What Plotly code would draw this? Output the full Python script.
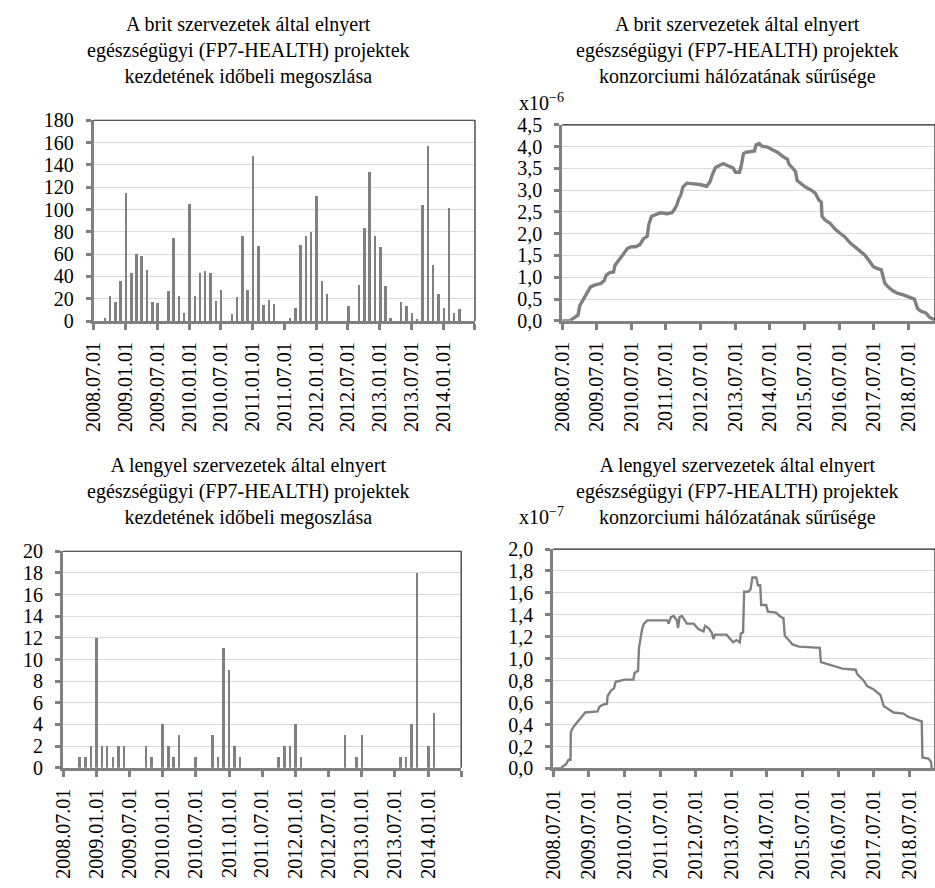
import pandas as pd
import plotly.graph_objects as go

FONT = "Liberation Serif"
GRAY = "#808080"
GRID = "#d9d9d9"

# Monthly categories of project start dates (2008.07 - 2014.06)
months = pd.date_range("2008-07-01", "2014-06-01", freq="MS")

# Number of projects started per month, UK organisations
uk_starts = [0, 0, 3, 22, 17, 36, 115, 43, 60, 58, 46, 17,
             16, 0, 27, 74, 22, 7, 105, 22, 43, 45, 43, 18,
             28, 0, 6, 21, 76, 28, 148, 67, 14, 19, 15, 0,
             0, 3, 12, 68, 76, 80, 112, 36, 24, 0, 0, 0,
             13, 0, 32, 83, 133, 76, 66, 31, 3, 0, 17, 13,
             7, 2, 104, 157, 50, 24, 12, 101, 7, 11, 0, 0]

# Number of projects started per month, Polish organisations
pl_starts = [0, 0, 0, 1, 1, 2, 12, 2, 2, 1, 2, 2,
             0, 0, 0, 2, 1, 0, 4, 2, 1, 3, 0, 0,
             1, 0, 0, 3, 1, 11, 9, 2, 1, 0, 0, 0,
             0, 0, 0, 1, 2, 2, 4, 1, 0, 0, 0, 0,
             0, 0, 0, 3, 0, 1, 3, 0, 0, 0, 0, 0,
             0, 1, 1, 4, 18, 0, 2, 5, 0, 0, 0, 0]

# Consortium network density, UK (x10^-6)
uk_density_dates = [
    "2008-07-01", "2008-09-20", "2008-10-23", "2008-12-15", "2009-01-03", "2009-01-20",
    "2009-02-23", "2009-03-28", "2009-04-26", "2009-06-07", "2009-08-16", "2009-09-20",
    "2009-10-07", "2009-11-10", "2009-12-25", "2010-01-09", "2010-02-07", "2010-03-11",
    "2010-04-15", "2010-05-20", "2010-07-01", "2010-08-15", "2010-09-30", "2010-11-04",
    "2010-12-15", "2011-01-02", "2011-01-30", "2011-03-11", "2011-05-02", "2011-07-11",
    "2011-09-02", "2011-09-26", "2011-10-24", "2011-11-11", "2011-12-05", "2011-12-26",
    "2012-02-06", "2012-03-28", "2012-06-24", "2012-09-02", "2012-10-07", "2012-11-04",
    "2012-12-05", "2013-01-20", "2013-02-24", "2013-04-15", "2013-06-07", "2013-07-04",
    "2013-08-15", "2013-09-02", "2013-09-26", "2013-10-24", "2013-12-15", "2014-01-20",
    "2014-02-06", "2014-03-11", "2014-04-08", "2014-06-06", "2014-07-28", "2014-09-19",
    "2014-11-10", "2015-01-02", "2015-01-19", "2015-02-23", "2015-03-28", "2015-04-15",
    "2015-05-20", "2015-07-11", "2015-09-02", "2015-10-24", "2015-11-28", "2015-12-26",
    "2016-01-02", "2016-02-06", "2016-03-28", "2016-05-20", "2016-07-11", "2016-09-02",
    "2016-10-24", "2016-12-15", "2017-02-06", "2017-03-28", "2017-05-20", "2017-06-24",
    "2017-07-28", "2017-09-19", "2017-10-24", "2017-11-28", "2018-01-19", "2018-03-11",
    "2018-05-02", "2018-06-24", "2018-09-02", "2018-10-07", "2018-11-11", "2019-01-02",
    "2019-02-06", "2019-03-11", "2019-04-05",
]
uk_density = [
    0.0, 0.0, 0.05, 0.13, 0.35, 0.42,
    0.55, 0.69, 0.78, 0.82, 0.86, 0.93,
    1.04, 1.10, 1.12, 1.27, 1.36, 1.45,
    1.57, 1.66, 1.70, 1.70, 1.75, 1.88,
    1.94, 2.22, 2.40, 2.44, 2.48, 2.46,
    2.48, 2.55, 2.66, 2.79, 2.89, 3.07,
    3.16, 3.15, 3.13, 3.09, 3.19, 3.37,
    3.52, 3.57, 3.61, 3.56, 3.51, 3.41,
    3.41, 3.56, 3.84, 3.87, 3.88, 3.90,
    4.04, 4.07, 4.01, 3.99, 3.93, 3.87,
    3.78, 3.71, 3.60, 3.51, 3.43, 3.22,
    3.15, 3.07, 3.01, 2.93, 2.78, 2.72,
    2.40, 2.31, 2.24, 2.10, 2.01, 1.92,
    1.79, 1.69, 1.60, 1.51, 1.36, 1.25,
    1.21, 1.17, 0.87, 0.78, 0.69, 0.63,
    0.60, 0.56, 0.50, 0.28, 0.22, 0.18,
    0.09, 0.05, 0.02,
]

# Consortium network density, Poland (x10^-7)
pl_density_dates = [
    "2008-07-01", "2008-09-21", "2008-10-08", "2008-11-11", "2008-12-05", "2008-12-25",
    "2008-12-28", "2009-01-18", "2009-02-21", "2009-03-25", "2009-04-28", "2009-05-25",
    "2009-09-29", "2009-10-15", "2009-11-19", "2010-01-02", "2010-01-09", "2010-02-12",
    "2010-03-16", "2010-04-02", "2010-07-03", "2010-09-30", "2010-10-13", "2010-11-17",
    "2010-11-27", "2010-12-31", "2011-01-17", "2011-02-20", "2011-09-11", "2011-09-27",
    "2011-10-21", "2011-11-17", "2011-12-21", "2012-01-01", "2012-01-17", "2012-02-10",
    "2012-03-14", "2012-04-01", "2012-06-08", "2012-07-28", "2012-09-18", "2012-10-05",
    "2012-11-08", "2012-12-12", "2012-12-29", "2013-01-15", "2013-05-12", "2013-06-16",
    "2013-07-19", "2013-08-23", "2013-09-26", "2013-10-06", "2013-10-29", "2013-11-09",
    "2013-12-19", "2014-01-13", "2014-02-02", "2014-03-13", "2014-03-30", "2014-04-23",
    "2014-05-03", "2014-06-23", "2014-07-10", "2014-10-03", "2014-11-07", "2014-12-17",
    "2014-12-31", "2015-01-31", "2015-03-21", "2015-05-27", "2015-12-25", "2016-01-05",
    "2016-03-28", "2016-06-05", "2016-08-12", "2016-12-26", "2017-01-12", "2017-03-19",
    "2017-04-23", "2017-06-30", "2017-09-06", "2017-10-10", "2017-11-30", "2018-01-20",
    "2018-05-01", "2018-06-20", "2018-08-27", "2018-11-04", "2018-11-11", "2019-01-11",
    "2019-02-08", "2019-02-14",
]
pl_density = [
    0.0, 0.0, 0.02, 0.04, 0.08, 0.08,
    0.33, 0.37, 0.41, 0.44, 0.48, 0.51,
    0.52, 0.56, 0.58, 0.59, 0.66, 0.71,
    0.73, 0.79, 0.81, 0.81, 0.87, 0.89,
    1.10, 1.28, 1.32, 1.35, 1.35, 1.32,
    1.38, 1.39, 1.35, 1.28, 1.38, 1.39,
    1.35, 1.32, 1.32, 1.27, 1.25, 1.30,
    1.28, 1.24, 1.18, 1.22, 1.22, 1.18,
    1.15, 1.17, 1.15, 1.23, 1.24, 1.61,
    1.61, 1.63, 1.74, 1.74, 1.67, 1.67,
    1.49, 1.49, 1.43, 1.42, 1.39, 1.37,
    1.21, 1.18, 1.13, 1.11, 1.10, 0.97,
    0.95, 0.93, 0.91, 0.90, 0.86, 0.80,
    0.75, 0.72, 0.67, 0.57, 0.54, 0.51,
    0.50, 0.47, 0.45, 0.43, 0.10, 0.09,
    0.06, 0.0,
]

# Tick positions and labels
half_year_ticks = pd.date_range("2008-07-01", "2014-01-01", freq="6MS")
half_year_labels = [d.strftime("%Y.%m.%d") for d in half_year_ticks]
year_ticks = pd.date_range("2008-07-01", "2018-07-01", freq="12MS")
year_labels = [d.strftime("%Y.%m.%d") for d in year_ticks]

TITLE_UK_BARS = "A brit szervezetek által elnyert<br>egészségügyi (FP7-HEALTH) projektek<br>kezdetének időbeli megoszlása"
TITLE_UK_LINE = "A brit szervezetek által elnyert<br>egészségügyi (FP7-HEALTH) projektek<br>konzorciumi hálózatának sűrűsége"
TITLE_PL_BARS = "A lengyel szervezetek által elnyert<br>egészségügyi (FP7-HEALTH) projektek<br>kezdetének időbeli megoszlása"
TITLE_PL_LINE = "A lengyel szervezetek által elnyert<br>egészségügyi (FP7-HEALTH) projektek<br>konzorciumi hálózatának sűrűsége"

W, H = 935, 888
TICKFONT = dict(family=FONT, size=20, color="black")
BAR_WIDTH_MS = 14 * 24 * 3600 * 1000


def px_x(a, b):
    return [a / W, b / W]


def px_y(top, bottom):
    return [1 - bottom / H, 1 - top / H]


def x_axis(domain, rng, tickvals, ticktext, anchor, minor_step):
    return dict(
        domain=domain, range=rng, type="date", anchor=anchor,
        tickmode="array", tickvals=list(tickvals), ticktext=ticktext,
        tickangle=-90, tickfont=TICKFONT,
        showline=True, linecolor=GRAY, linewidth=3,
        ticks="outside", ticklen=6, tickwidth=2.5, tickcolor=GRAY,
        minor=dict(ticks="outside", ticklen=6, tickwidth=2.5, tickcolor=GRAY,
                   tick0="2008-07-01", dtick=minor_step, showgrid=False),
        showgrid=False, zeroline=False, ticklabelstandoff=4,
    )


def y_axis(domain, rng, dtick, fmt, anchor):
    return dict(
        domain=domain, range=rng, tick0=0, dtick=dtick, tickformat=fmt,
        anchor=anchor, tickfont=TICKFONT,
        showline=True, linecolor=GRAY, linewidth=3,
        ticks="outside", ticklen=5, tickwidth=2.5, tickcolor=GRAY,
        showgrid=True, gridcolor=GRID, gridwidth=1.3, zeroline=False,
        ticklabelstandoff=8,
    )


fig = go.Figure()
fig.add_trace(go.Bar(x=months, y=uk_starts, width=BAR_WIDTH_MS,
                     marker=dict(color=GRAY, line_width=0), xaxis="x", yaxis="y"))
fig.add_trace(go.Scatter(x=uk_density_dates, y=uk_density, mode="lines",
                         line=dict(color=GRAY, width=3.4), xaxis="x2", yaxis="y2"))
fig.add_trace(go.Bar(x=months, y=pl_starts, width=BAR_WIDTH_MS,
                     marker=dict(color=GRAY, line_width=0), xaxis="x3", yaxis="y3"))
fig.add_trace(go.Scatter(x=pl_density_dates, y=pl_density, mode="lines",
                         line=dict(color=GRAY, width=2.4), xaxis="x4", yaxis="y4"))

layout = dict(
    width=W, height=H, autosize=False,
    margin=dict(l=0, r=0, t=0, b=0, pad=0),
    paper_bgcolor="white", plot_bgcolor="white",
    showlegend=False, separators=", ", bargap=0,
    font=dict(family=FONT, size=20, color="black"),
    xaxis=x_axis(px_x(82.7, 469), ["2008-07-01", "2014-07-01"],
                 half_year_ticks, half_year_labels, "y", "M6"),
    yaxis=y_axis(px_y(112, 318), [0, 180], 20, "d", "x"),
    xaxis2=x_axis(px_x(557.3, 935), ["2008-07-01", "2019-04-08"],
                  year_ticks, year_labels, "y2", "M12"),
    yaxis2=y_axis(px_y(116.7, 317.7), [0, 4.5], 0.5, ".1f", "x2"),
    xaxis3=x_axis(px_x(51.7, 455), ["2008-07-01", "2014-07-01"],
                  half_year_ticks, half_year_labels, "y3", "M6"),
    yaxis3=y_axis(px_y(554, 776), [0, 20], 2, "d", "x3"),
    xaxis4=x_axis(px_x(548.3, 935), ["2008-07-01", "2019-03-20"],
                  year_ticks, year_labels, "y4", "M12"),
    yaxis4=y_axis(px_y(551.7, 776.7), [0, 2.0], 0.2, ".1f", "x4"),
)

# Thin dark frame on the top and right edges of each plot area
shapes = []
for xs, ys in [("x", "y"), ("x2", "y2"), ("x3", "y3"), ("x4", "y4")]:
    shapes.append(dict(type="line", xref=f"{xs} domain", yref=f"{ys} domain",
                       x0=0, x1=1, y0=1, y1=1, layer="above",
                       line=dict(color="#222222", width=1.2)))
    shapes.append(dict(type="line", xref=f"{xs} domain", yref=f"{ys} domain",
                       x0=1, x1=1, y0=0, y1=1, layer="above",
                       line=dict(color="#222222", width=1.2)))
layout["shapes"] = shapes

title_font = dict(family=FONT, size=20, color="black")
annotations = []
for text, cx, cy in [(TITLE_UK_BARS, 240, 40), (TITLE_UK_LINE, 735, 40),
                     (TITLE_PL_BARS, 240, 493), (TITLE_PL_LINE, 735, 493)]:
    annotations.append(dict(text=text, xref="paper", yref="paper",
                            x=cx / W, y=1 - cy / H, xanchor="center", yanchor="middle",
                            showarrow=False, align="center", font=title_font))
for text, cy in [("x10<sup>−6</sup>", 93), ("x10<sup>−7</sup>", 518)]:
    annotations.append(dict(text=text, xref="paper", yref="paper",
                            x=512 / W, y=1 - cy / H, xanchor="left", yanchor="middle",
                            showarrow=False, font=title_font))
layout["annotations"] = annotations

fig.update_layout(**layout)
fig.write_html("out.html")
